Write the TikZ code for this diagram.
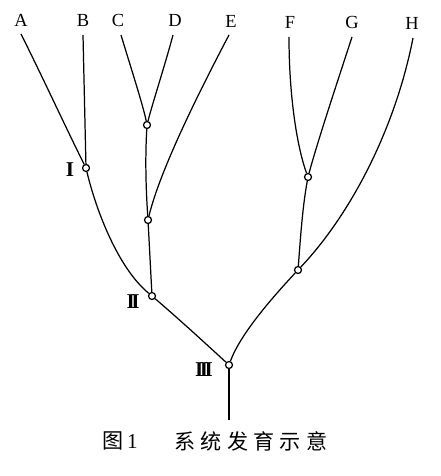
\documentclass[tikz,border=0pt]{standalone}
\usepackage{fontspec}
\setmainfont{Liberation Serif}
\newfontfamily\cjk{Noto Sans CJK SC}
\begin{document}
\begin{tikzpicture}[x=0.02cm, y=-0.02cm, line width=0.7pt,
  fork/.style={circle,draw,fill=white,minimum size=0.14cm,inner sep=0pt},
  taxon/.style={font=\fontsize{10.5}{12}\selectfont,inner sep=1pt},
  rank/.style={font=\fontsize{12}{14}\selectfont\bfseries,inner sep=1pt}]
  \useasboundingbox (0,0) rectangle (440,476);
  \node[taxon] (A) at (21,20) {A};
  \node[taxon] (B) at (83,20) {B};
  \node[taxon] (C) at (118,20) {C};
  \node[taxon] (D) at (175,20) {D};
  \node[taxon] (E) at (231,21) {E};
  \node[taxon] (F) at (290,22) {F};
  \node[taxon] (G) at (352,22) {G};
  \node[taxon] (H) at (412,23) {H};
  \coordinate (a) at (21,34);
  \coordinate (b) at (83,35);
  \coordinate (c) at (121,35);
  \coordinate (d) at (173,35);
  \coordinate (e) at (229,35);
  \coordinate (f) at (289,37);
  \coordinate (g) at (352,37);
  \coordinate (h) at (413,38);

  \node[fork] (cd) at (147,125) {};
  \node[fork] (1) at (86,168) {};
  \node[fork] (cde) at (148,220) {};
  \node[fork] (2) at (152,296) {};
  \node[fork] (fg) at (308,177) {};
  \node[fork] (fgh) at (298,270) {};
  \node[fork] (3) at (229,365) {};
  \coordinate (root) at (229,420);

  \draw (a) .. controls (43,78) and (66,128) .. (1);
  \draw (b) -- (1);
  \draw (1) .. controls (96,210) and (118,268) .. (2);
  \draw (c) .. controls (130,65) and (143,105) .. (cd);
  \draw (d) .. controls (165,65) and (152,105) .. (cd);
  \draw (cd) .. controls (145,160) and (146,190) .. (cde);
  \draw (e) .. controls (200,90) and (160,170) .. (cde);
  \draw (cde) -- (2);
  \draw (2) .. controls (180,320) and (205,343) .. (3);
  \draw (f) .. controls (289,100) and (298,150) .. (fg);
  \draw (g) .. controls (338,80) and (318,140) .. (fg);
  \draw (fg) .. controls (302,210) and (300,245) .. (fgh);
  \draw (h) .. controls (395,130) and (350,215) .. (fgh);
  \draw (fgh) .. controls (270,300) and (240,335) .. (3);
  \draw (3) -- (root);

  \node[rank] (r1) at (70,170) {I};
  \node[rank] (r2) at (133,302) {I\kern-2pt I};
  \node[rank] (r3) at (204,370) {I\kern-2pt I\kern-2pt I};

  \node[font=\cjk\fontsize{12}{14}\selectfont] (fig) at (120,441) {图\,{\rmfamily 1}};
  \node[font=\cjk\fontsize{12}{14}\selectfont] (title) at (251,441) {系\hspace{3pt}统\hspace{3pt}发\hspace{3pt}育\hspace{3pt}示\hspace{3pt}意};
\end{tikzpicture}
\end{document}
